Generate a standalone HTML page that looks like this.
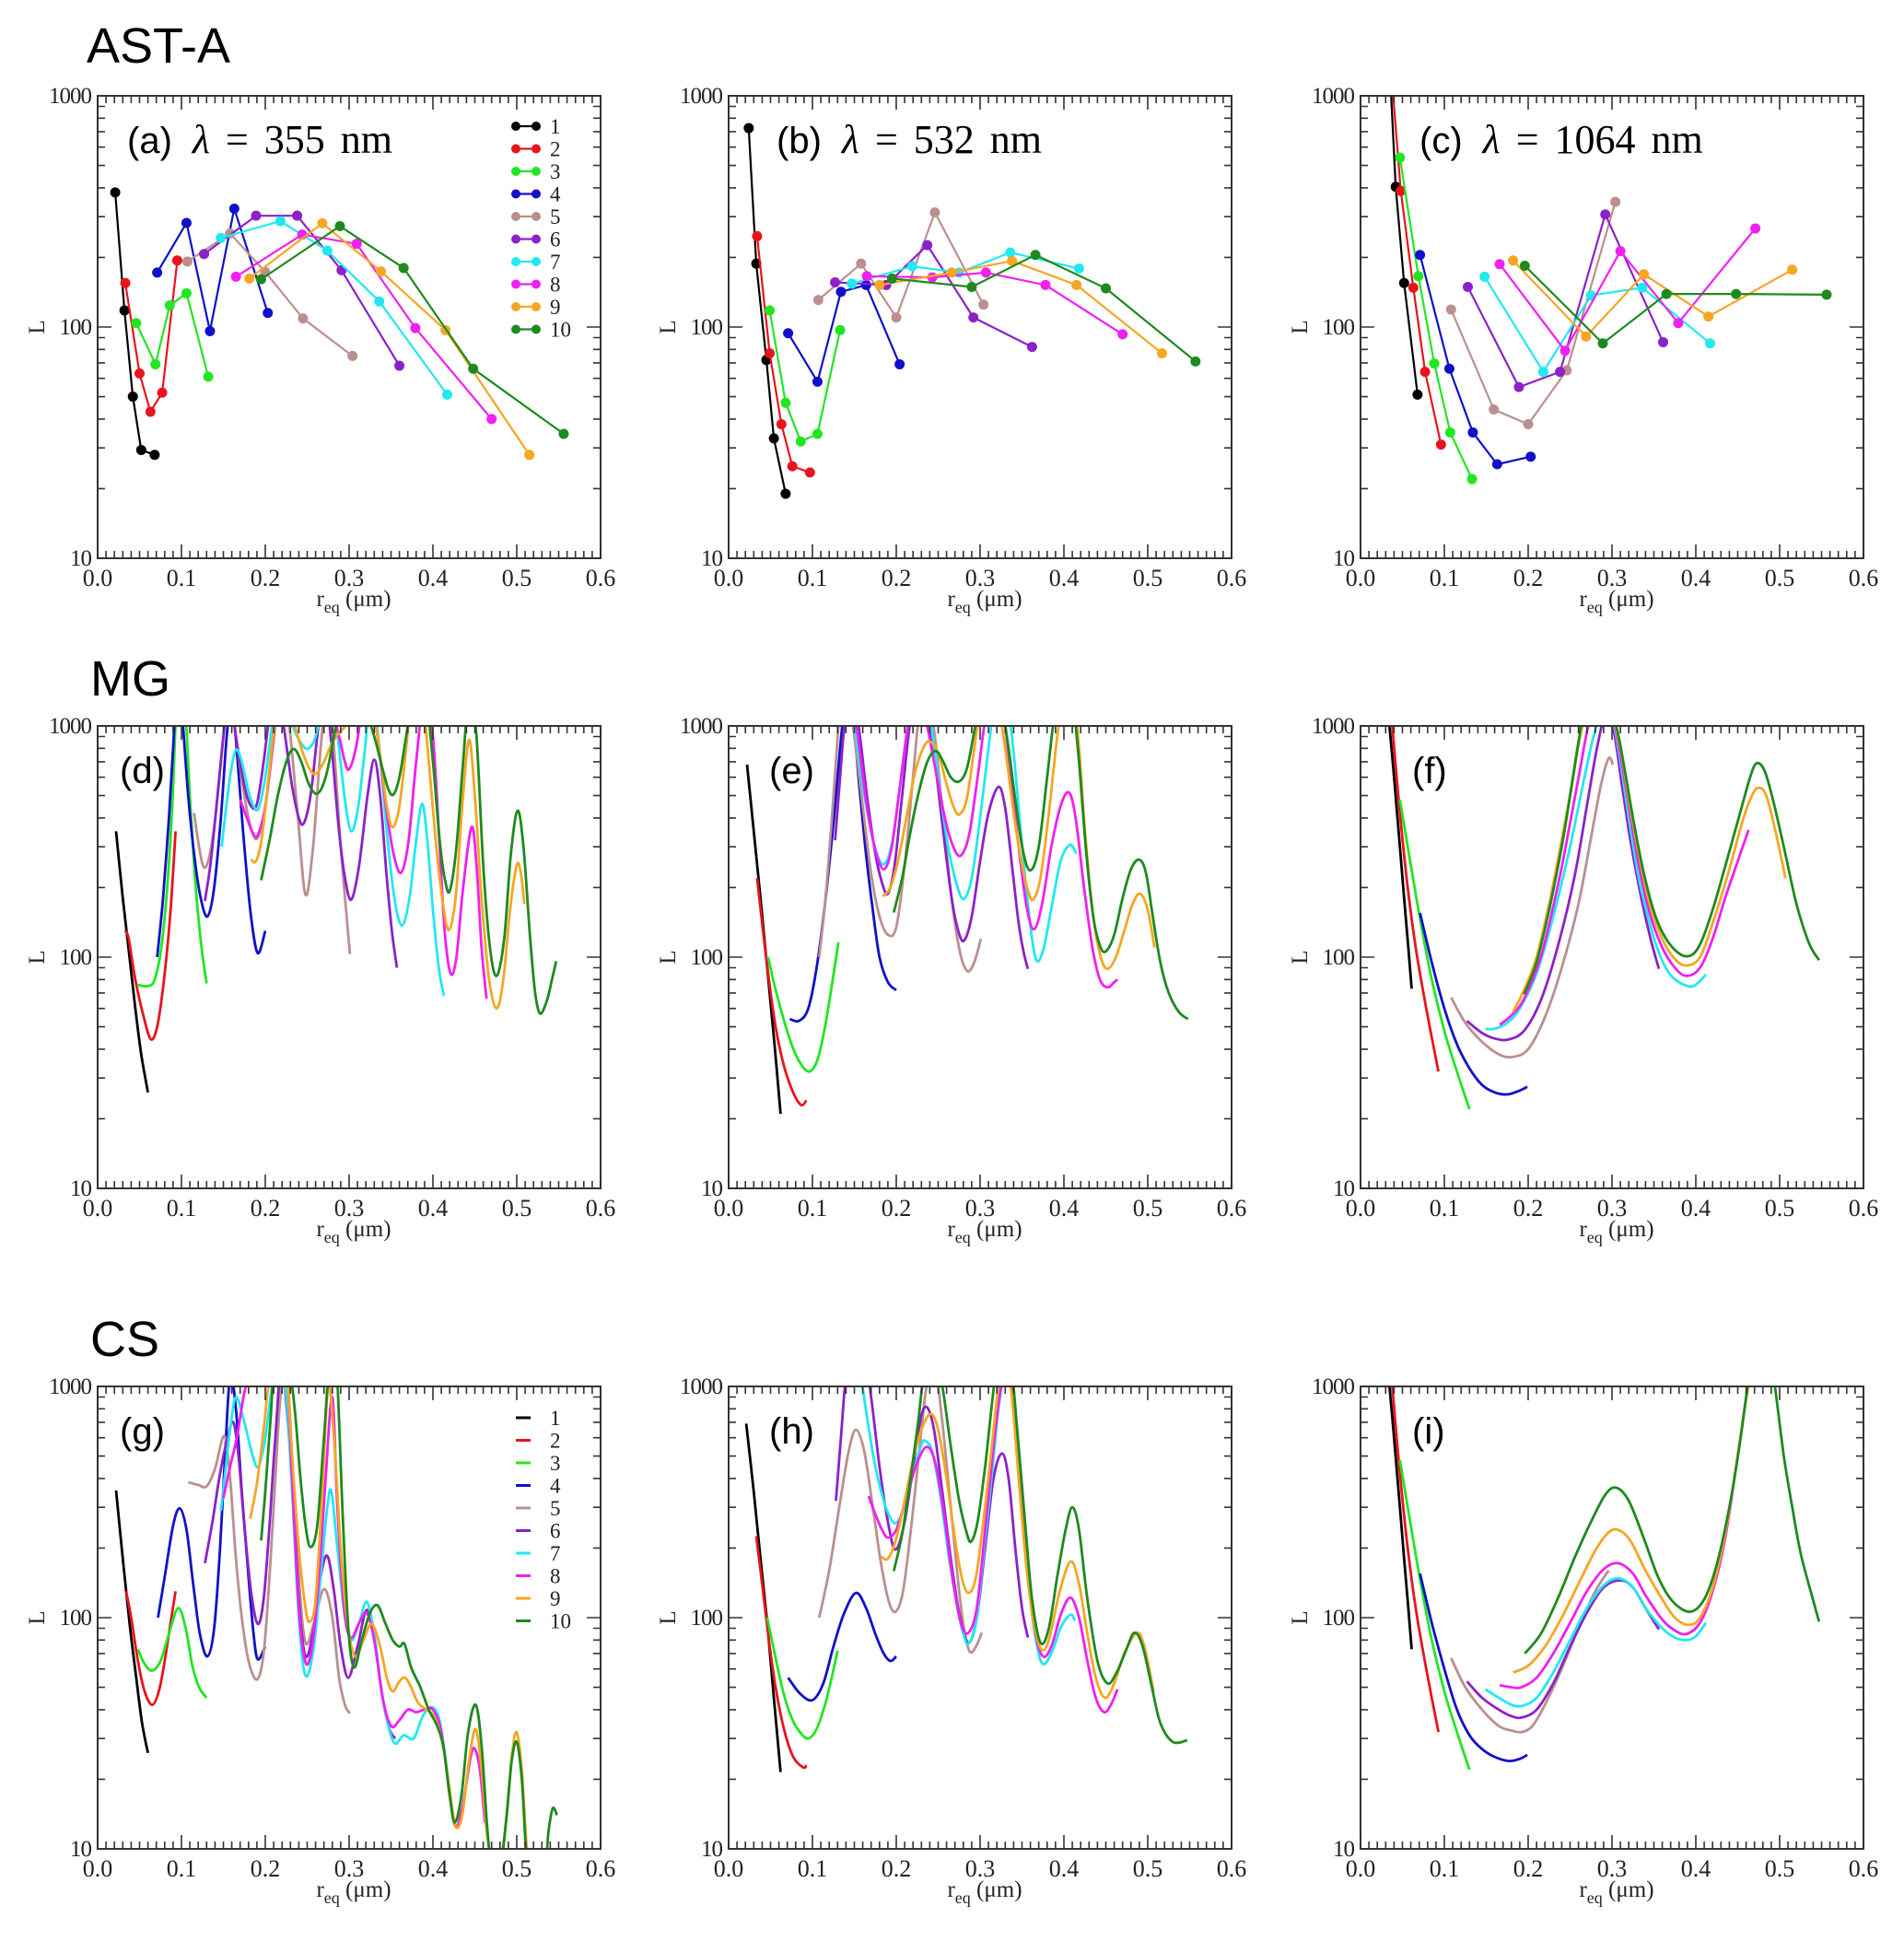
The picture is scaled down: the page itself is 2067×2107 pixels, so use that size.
<!DOCTYPE html>
<html><head><meta charset="utf-8"><style>
html,body{margin:0;padding:0;background:#fff;}
svg{display:block;}
</style></head><body>
<svg id="fig" xmlns="http://www.w3.org/2000/svg" width="2067" height="2107" viewBox="0 0 2067 2107">
<rect x="0" y="0" width="2067" height="2107" fill="#fff"/>
<text x="94" y="68" font-family="Liberation Sans, sans-serif" font-size="54">AST-A</text>
<text x="98" y="755" font-family="Liberation Sans, sans-serif" font-size="54">MG</text>
<text x="98" y="1472" font-family="Liberation Sans, sans-serif" font-size="54">CS</text>
<g id="panels"></g>
</svg>
<script>
const COLORS=['#000000','#e8141c','#22e622','#1010c8','#bc8f8f','#8b22c8','#22e8f0','#f020f0','#f5a623','#1e8a1e'];
const xTicks=[0,0.1,0.2,0.3,0.4,0.5,0.6];
const xTickLabels=['0.0','0.1','0.2','0.3','0.4','0.5','0.6'];
const yTicks=[10,100,1000];
const yTickLabels=['10','100','1000'];
const legendLabels=['1','2','3','4','5','6','7','8','9','10'];

// Panel (a) 355 nm, AST-A, markers
const dataA=[
[[.021,382],[.032,118],[.042,50],[.052,29.4],[.068,28]],
[[.033,155],[.050,63],[.063,43],[.077,52],[.095,194]],
[[.046,104],[.069,69],[.086,124],[.106,140],[.132,61]],
[[.071,172],[.106,282],[.134,96],[.163,325],[.203,115]],
[[.107,192],[.158,254],[.200,173],[.245,109],[.304,75]],
[[.127,207],[.189,303],[.238,303],[.291,176],[.360,68]],
[[.147,243],[.218,287],[.274,214],[.336,129],[.417,51]],
[[.165,165],[.244,251],[.309,229],[.379,99],[.470,40]],
[[.181,162],[.268,281],[.338,174],[.415,97],[.515,28]],
[[.195,161],[.289,273],[.365,180],[.448,66],[.556,34.5]]];
// Panel (b) 532 nm
const dataB=[
[[.024,725],[.033,188],[.045,72],[.054,33],[.068,19]],
[[.034,247],[.049,77],[.063,38],[.076,25],[.097,23.5]],
[[.049,118],[.068,47],[.086,32],[.106,34.5],[.133,97]],
[[.071,94],[.106,58],[.134,142],[.164,152],[.204,69]],
[[.107,131],[.158,188],[.200,110],[.246,313],[.304,125]],
[[.127,156],[.188,152],[.237,226],[.292,110],[.362,82]],
[[.147,154],[.219,183],[.275,172],[.336,210],[.418,179]],
[[.165,166],[.243,164],[.307,172],[.378,152],[.470,93]],
[[.180,152],[.266,172],[.338,193],[.415,152],[.517,77]],
[[.195,162],[.290,149],[.366,205],[.450,147],[.557,71]]];
// Panel (c) 1064 nm
const dataC=[
[[.035,1300],[.042,404],[.052,155],[.068,51]],
[[.038,1100],[.048,388],[.063,148],[.077,64],[.096,31]],
[[.047,540],[.069,166],[.088,69.5],[.107,35],[.133,22]],
[[.071,205],[.106,66],[.134,35],[.163,25.5],[.203,27.5]],
[[.108,119],[.159,44],[.200,38],[.246,65],[.304,348]],
[[.128,149],[.189,55],[.238,64],[.292,307],[.361,86]],
[[.148,165],[.218,64],[.275,137],[.336,148],[.417,85]],
[[.166,187],[.244,79],[.310,213],[.379,104],[.471,267]],
[[.182,194],[.269,91],[.338,169],[.415,111],[.515,177]],
[[.196,184],[.289,85],[.365,139],[.448,139],[.556,138]]];

// Panel (d) MG 355
const dataD=[
[[.022,350],[.03,180],[.038,100],[.045,60],[.052,38],[.06,26]],
[[.033,130],[.037,120],[.045,80],[.055,55],[.064,44],[.072,52],[.08,85],[.087,160],[.093,350]],
[[.047,76],[.06,75],[.068,80],[.076,110],[.083,200],[.089,450],[.094,1200],[.1,1500],[.105,1100],[.11,500],[.117,200],[.124,110],[.13,77]],
[[.071,100],[.078,180],[.085,400],[.09,800],[.095,1500],[.1,1200],[.108,500],[.115,280],[.123,180],[.131,150],[.139,200],[.147,400],[.154,900],[.16,1300],[.167,700],[.175,300],[.183,150],[.191,104],[.2,130]],
[[.115,420],[.121,300],[.127,244],[.134,280],[.142,450],[.15,900],[.157,1400],[.165,900],[.175,500],[.183,360],[.19,325],[.198,400],[.207,700],[.215,1200],[.222,1500],[.23,900],[.239,400],[.248,186],[.257,300],[.266,800],[.274,1400],[.282,800],[.29,300],[.301,103]],
[[.128,175],[.135,260],[.143,500],[.15,900],[.157,1400],[.165,900],[.175,550],[.183,450],[.19,460],[.198,700],[.206,1200],[.213,1600],[.222,1000],[.232,550],[.24,400],[.246,380],[.254,500],[.262,900],[.27,1500],[.278,900],[.288,350],[.296,210],[.303,178],[.312,250],[.322,500],[.33,714],[.337,500],[.345,220],[.351,130],[.357,90]],
[[.148,300],[.155,500],[.161,700],[.166,790],[.172,700],[.18,520],[.186,450],[.192,440],[.2,600],[.208,1000],[.215,1400],[.225,1200],[.235,950],[.245,820],[.252,800],[.26,900],[.27,1300],[.28,1400],[.288,800],[.296,450],[.303,350],[.311,450],[.319,800],[.327,1400],[.336,800],[.345,350],[.354,180],[.363,137],[.372,180],[.38,320],[.387,460],[.393,330],[.4,160],[.407,90],[.413,68]],
[[.17,480],[.178,400],[.185,345],[.191,337],[.2,450],[.208,800],[.215,1400],[.225,1500],[.24,1300],[.255,1100],[.27,1000],[.28,1100],[.288,900],[.295,700],[.3,650],[.308,800],[.316,1200],[.324,1500],[.334,900],[.344,450],[.353,280],[.362,232],[.371,320],[.38,700],[.39,1400],[.4,900],[.408,300],[.414,130],[.421,85],[.428,100],[.436,200],[.446,365],[.452,250],[.458,110],[.464,66]],
[[.183,265],[.189,260],[.196,330],[.204,600],[.212,1100],[.22,1500],[.232,1100],[.243,800],[.252,660],[.26,620],[.27,700],[.28,850],[.29,950],[.3,1050],[.31,1400],[.32,1500],[.33,1100],[.338,700],[.345,450],[.352,365],[.36,450],[.368,800],[.376,1500],[.386,1500],[.395,700],[.404,300],[.412,170],[.419,131],[.427,180],[.435,450],[.443,870],[.45,500],[.458,180],[.467,80],[.476,60],[.484,80],[.492,160],[.5,250],[.505,230],[.509,170]],
[[.195,215],[.205,320],[.215,500],[.225,700],[.234,795],[.243,700],[.252,560],[.262,509],[.272,600],[.282,900],[.292,1400],[.305,1500],[.318,1200],[.33,900],[.34,650],[.347,530],[.353,505],[.36,600],[.368,900],[.378,1500],[.39,1500],[.4,700],[.408,320],[.414,220],[.42,193],[.428,300],[.436,700],[.444,1500],[.452,900],[.46,250],[.468,110],[.476,83],[.485,120],[.493,280],[.501,430],[.508,300],[.516,120],[.522,70],[.528,57],[.536,65],[.542,80],[.547,96]]];
// Panel (e) MG 532
const dataE=[
[[.022,680],[.03,350],[.038,180],[.046,90],[.054,45],[.062,21]],
[[.034,220],[.04,140],[.048,80],[.056,50],[.065,35],[.075,27],[.086,23],[.093,24]],
[[.047,100],[.055,75],[.065,55],[.075,42],[.085,35],[.096,32],[.106,36],[.115,50],[.123,75],[.131,116]],
[[.073,54],[.084,53],[.095,60],[.105,90],[.115,170],[.125,380],[.133,800],[.14,1300],[.148,1100],[.155,600],[.163,300],[.172,160],[.18,100],[.19,78],[.2,72]],
[[.108,100],[.115,170],[.122,350],[.128,700],[.134,1300],[.142,1400],[.15,900],[.16,450],[.17,230],[.18,150],[.19,125],[.2,135],[.21,250],[.22,600],[.228,1200],[.236,1500],[.246,900],[.256,400],[.266,180],[.276,105],[.285,87],[.293,95],[.301,120]],
[[.127,320],[.133,600],[.138,1000],[.145,1500],[.155,1000],[.165,500],[.175,280],[.183,210],[.19,188],[.198,250],[.207,500],[.216,1000],[.225,1500],[.236,1200],[.246,700],[.256,350],[.266,180],[.274,130],[.281,118],[.29,150],[.3,260],[.31,420],[.322,545],[.33,440],[.338,250],[.346,140],[.352,105],[.357,89]],
[[.145,1400],[.152,900],[.16,550],[.168,380],[.177,280],[.185,252],[.194,300],[.203,500],[.212,900],[.22,1400],[.23,1500],[.24,1100],[.25,600],[.26,330],[.27,220],[.28,178],[.29,220],[.3,400],[.31,800],[.318,1300],[.328,1500],[.338,900],[.347,400],[.355,200],[.362,120],[.368,96],[.376,110],[.386,170],[.396,260],[.407,306],[.415,280]],
[[.148,1400],[.156,800],[.165,450],[.175,290],[.185,240],[.194,290],[.203,500],[.212,900],[.22,1400],[.232,1200],[.245,700],[.258,400],[.268,300],[.277,275],[.287,340],[.297,600],[.305,1000],[.313,1400],[.325,1300],[.335,700],[.345,320],[.355,170],[.364,132],[.374,170],[.385,300],[.396,450],[.406,515],[.414,400],[.424,200],[.434,110],[.443,80],[.452,74],[.46,78],[.464,80]],
[[.184,183],[.193,200],[.202,260],[.212,400],[.222,620],[.232,800],[.24,855],[.25,760],[.26,560],[.268,450],[.275,414],[.284,480],[.292,750],[.3,1200],[.308,1500],[.32,1300],[.33,800],[.34,420],[.35,250],[.357,195],[.363,177],[.372,220],[.382,420],[.392,900],[.4,1400],[.41,1500],[.418,800],[.426,320],[.435,150],[.444,100],[.452,89],[.462,100],[.472,130],[.482,170],[.491,188],[.5,160],[.508,110]],
[[.197,156],[.207,220],[.217,350],[.227,520],[.237,700],[.247,780],[.256,700],[.265,600],[.275,575],[.284,650],[.292,900],[.3,1300],[.31,1500],[.322,1400],[.332,900],[.342,480],[.351,290],[.36,237],[.37,300],[.38,600],[.39,1200],[.4,1500],[.41,1300],[.418,700],[.426,300],[.435,150],[.443,112],[.45,106],[.46,125],[.47,180],[.48,240],[.49,264],[.498,230],[.506,150],[.515,95],[.525,70],[.537,58],[.548,54]]];
// Panel (f) MG 1064
const dataF=[
[[.034,1050],[.04,600],[.046,330],[.052,180],[.057,110],[.061,73]],
[[.037,1100],[.045,500],[.055,220],[.065,115],[.075,70],[.085,45],[.093,32]],
[[.047,480],[.06,250],[.072,140],[.085,80],[.1,48],[.115,32],[.13,22]],
[[.071,155],[.085,95],[.1,60],[.115,42],[.13,33],[.145,28],[.16,26],[.175,25.5],[.19,26.5],[.199,27.5]],
[[.108,67],[.125,52],[.145,43],[.165,38],[.181,37],[.2,40],[.22,55],[.24,90],[.26,170],[.275,330],[.287,560],[.296,725],[.301,680]],
[[.127,53],[.145,47],[.16,44.5],[.176,44],[.195,48],[.215,65],[.235,110],[.255,220],[.27,450],[.282,800],[.292,1100],[.302,950],[.312,550],[.322,320],[.335,180],[.346,120],[.356,89]],
[[.149,49],[.16,49],[.175,52],[.19,60],[.21,85],[.23,150],[.25,300],[.265,550],[.278,900],[.29,1200],[.3,1100],[.31,700],[.32,400],[.332,220],[.345,140],[.358,100],[.372,82],[.39,75],[.4,76],[.412,84]],
[[.166,51],[.18,56],[.195,66],[.215,100],[.235,200],[.25,380],[.262,650],[.272,1000],[.285,1200],[.3,1100],[.31,750],[.32,450],[.332,250],[.345,155],[.36,110],[.375,90],[.389,83],[.405,90],[.42,120],[.435,180],[.45,260],[.463,355]],
[[.182,58],[.195,72],[.21,100],[.225,170],[.24,320],[.252,550],[.262,900],[.275,1300],[.295,1300],[.31,800],[.32,480],[.332,280],[.345,170],[.36,120],[.375,98],[.389,92],[.405,100],[.42,140],[.44,240],[.455,380],[.467,500],[.475,540],[.484,500],[.495,350],[.507,220]],
[[.195,69],[.21,95],[.225,160],[.24,300],[.25,500],[.26,850],[.27,1300],[.29,1400],[.305,1000],[.315,650],[.325,400],[.338,230],[.352,150],[.368,115],[.387,101],[.403,110],[.42,160],[.438,270],[.455,450],[.466,620],[.473,690],[.482,640],[.492,480],[.505,300],[.52,170],[.535,115],[.547,97]]];

// Panel (g) CS 355
const dataG=[
[[.022,355],[.03,180],[.038,95],[.046,55],[.053,35],[.06,26]],
[[.034,130],[.04,100],[.048,65],[.056,48],[.065,42],[.073,48],[.08,65],[.087,95],[.093,130]],
[[.048,73],[.056,63],[.065,59],[.075,65],[.085,85],[.096,110],[.105,90],[.113,62],[.121,50],[.13,45]],
[[.072,100],[.08,150],[.09,250],[.098,297],[.106,240],[.114,140],[.122,85],[.131,68],[.139,90],[.146,200],[.152,500],[.158,1100],[.165,800],[.172,350],[.18,150],[.186,85],[.191,66],[.2,75]],
[[.108,385],[.12,375],[.13,370],[.14,440],[.151,610],[.158,400],[.165,180],[.172,100],[.18,65],[.19,54],[.198,70],[.205,150],[.212,400],[.218,900],[.225,1300],[.232,500],[.24,150],[.248,78],[.258,95],[.27,133],[.28,100],[.288,55],[.295,42],[.301,38.5]],
[[.128,172],[.137,260],[.146,420],[.155,600],[.162,700],[.168,500],[.175,250],[.183,130],[.191,94],[.198,120],[.205,250],[.212,600],[.22,1200],[.232,400],[.24,120],[.248,68],[.258,90],[.266,150],[.274,185],[.282,130],[.29,75],[.299,55],[.31,75],[.321,108],[.33,80],[.34,45],[.348,33],[.355,30]],
[[.147,290],[.153,450],[.158,650],[.165,900],[.175,700],[.185,500],[.192,450],[.2,600],[.208,1000],[.215,1300],[.225,900],[.232,350],[.24,100],[.248,56],[.258,75],[.266,150],[.274,300],[.279,350],[.286,200],[.295,100],[.303,80],[.312,95],[.321,117],[.33,85],[.34,45],[.353,29],[.365,31],[.377,30],[.387,37],[.397,41],[.406,38],[.413,28],[.42,17],[.427,12.5],[.435,15],[.445,25],[.45,27],[.456,22],[.462,14]],
[[.15,330],[.158,450],[.166,600],[.174,900],[.18,1100],[.19,1300],[.2,1200],[.21,1000],[.218,1200],[.225,1300],[.232,400],[.24,110],[.248,64],[.256,75],[.264,150],[.272,400],[.28,900],[.286,300],[.294,110],[.302,82],[.312,95],[.321,105],[.33,80],[.34,45],[.35,34],[.36,36],[.37,40],[.38,39],[.39,40],[.4,40],[.41,32],[.42,17],[.427,12.5],[.435,15],[.445,25],[.45,27],[.456,22],[.462,13]],
[[.182,268],[.19,380],[.198,650],[.205,1100],[.215,1500],[.225,1200],[.232,500],[.24,200],[.248,110],[.253,96],[.26,120],[.268,350],[.275,1000],[.282,600],[.29,200],[.298,95],[.307,68],[.317,80],[.327,94],[.337,75],[.345,55],[.352,48],[.36,53],[.367,55],[.374,50],[.382,43],[.392,40],[.402,37],[.412,28],[.42,18],[.427,12.5],[.435,14],[.443,24],[.451,33],[.458,22],[.464,12],[.47,9],[.478,8],[.486,12],[.494,25],[.5,32],[.506,22],[.512,10],[.518,7]],
[[.195,216],[.2,350],[.206,700],[.212,1300],[.225,1500],[.235,800],[.242,400],[.248,250],[.254,202],[.262,250],[.27,600],[.277,1300],[.285,1200],[.292,300],[.299,90],[.306,61],[.315,80],[.325,105],[.334,113],[.343,95],[.352,80],[.36,75],[.366,77],[.374,61],[.385,50],[.395,40],[.405,34],[.413,27],[.42,17],[.426,13],[.434,17],[.442,32],[.451,42],[.458,28],[.465,12],[.471,8],[.48,8],[.488,14],[.494,24],[.5,29],[.506,20],[.512,9],[.52,7],[.533,8],[.538,12],[.543,15],[.548,14]]];
// Panel (h) CS 532
const dataH=[
[[.021,690],[.03,350],[.038,180],[.046,95],[.054,45],[.062,21.5]],
[[.033,225],[.04,140],[.048,80],[.056,50],[.066,33],[.077,25],[.089,22.5],[.093,23]],
[[.046,100],[.055,70],[.065,48],[.075,37],[.085,32],[.095,30],[.105,33],[.115,42],[.123,55],[.13,72]],
[[.071,55],[.085,47],[.1,44],[.113,52],[.125,75],[.138,105],[.152,128],[.164,110],[.175,85],[.185,70],[.193,65],[.2,68]],
[[.108,100],[.12,160],[.132,300],[.143,520],[.152,650],[.162,520],[.172,300],[.182,170],[.191,118],[.199,106],[.208,130],[.218,250],[.228,550],[.236,1000],[.245,1300],[.255,700],[.265,300],[.275,130],[.282,85],[.288,71],[.295,75],[.302,86]],
[[.128,320],[.134,600],[.14,1100],[.15,1600],[.16,1600],[.17,900],[.18,450],[.19,260],[.199,197],[.21,260],[.222,500],[.23,750],[.237,810],[.245,650],[.255,350],[.265,180],[.275,105],[.286,78],[.296,100],[.306,200],[.316,400],[.326,513],[.334,400],[.342,200],[.35,110],[.357,82]],
[[.158,1100],[.166,700],[.175,450],[.185,320],[.193,270],[.2,257],[.21,300],[.22,420],[.23,560],[.235,580],[.243,520],[.253,330],[.263,180],[.273,110],[.28,85],[.286,77],[.295,95],[.305,200],[.315,450],[.322,800],[.33,1200],[.337,1200],[.345,600],[.353,250],[.36,120],[.368,75],[.375,63],[.385,70],[.397,92],[.408,103],[.413,97]],
[[.167,335],[.175,280],[.183,240],[.19,222],[.2,240],[.212,330],[.225,470],[.237,548],[.247,460],[.257,280],[.267,150],[.277,95],[.286,86],[.296,110],[.306,240],[.316,550],[.325,1000],[.333,1200],[.342,700],[.35,300],[.358,140],[.366,85],[.375,68],[.385,75],[.397,105],[.408,122],[.418,100],[.428,65],[.438,45],[.448,39],[.456,42],[.464,49]],
[[.182,184],[.19,180],[.2,220],[.21,320],[.22,480],[.23,650],[.241,760],[.25,650],[.26,400],[.27,220],[.278,150],[.286,128],[.295,150],[.305,280],[.315,600],[.322,1000],[.33,1300],[.338,900],[.346,400],[.355,170],[.364,95],[.373,73],[.382,80],[.395,130],[.408,175],[.418,140],[.428,85],[.438,55],[.449,45],[.46,52],[.472,70],[.487,86],[.496,75],[.507,48]],
[[.197,159],[.207,230],[.217,400],[.226,700],[.233,1100],[.245,1400],[.255,1000],[.265,550],[.275,320],[.283,240],[.289,213],[.297,260],[.306,450],[.315,900],[.322,1400],[.335,1400],[.345,600],[.354,250],[.362,120],[.372,78],[.382,90],[.392,150],[.402,240],[.41,300],[.418,240],[.428,120],[.44,65],[.452,52],[.463,58],[.474,72],[.484,86],[.494,75],[.505,50],[.515,35],[.53,29],[.547,29.5]]];
// Panel (i) CS 1064
const dataI=[
[[.034,1050],[.04,600],[.046,330],[.052,180],[.057,110],[.061,73]],
[[.037,1100],[.045,500],[.055,220],[.065,115],[.075,70],[.085,45],[.093,32]],
[[.047,480],[.06,250],[.072,140],[.085,80],[.1,48],[.115,32],[.13,22]],
[[.071,155],[.085,95],[.1,60],[.115,40],[.13,31],[.145,27],[.16,25],[.177,24],[.19,24.5],[.199,25.5]],
[[.108,67],[.125,50],[.145,40],[.165,34],[.18,32.5],[.192,32],[.205,34],[.22,42],[.24,60],[.26,90],[.28,130],[.296,160]],
[[.127,53],[.145,45],[.165,40],[.18,37.5],[.192,37],[.21,40],[.23,52],[.25,75],[.27,105],[.29,135],[.31,145],[.325,135],[.34,110],[.356,89]],
[[.149,49],[.165,45],[.18,42],[.192,41.5],[.21,45],[.23,58],[.25,80],[.27,110],[.29,138],[.308,148],[.325,135],[.34,110],[.36,90],[.375,82],[.389,80],[.4,83],[.412,95]],
[[.166,51],[.18,50],[.192,50],[.21,55],[.23,70],[.25,95],[.27,130],[.29,162],[.307,172],[.325,155],[.34,125],[.36,98],[.375,88],[.389,85],[.405,95],[.42,130],[.435,220],[.448,450],[.458,800],[.464,1100]],
[[.182,58],[.2,62],[.22,75],[.24,100],[.26,140],[.28,195],[.295,232],[.307,240],[.322,215],[.34,160],[.36,120],[.375,100],[.391,93],[.405,100],[.42,135],[.435,230],[.448,450],[.458,800],[.465,1100]],
[[.196,70],[.215,85],[.235,120],[.255,180],[.275,260],[.292,340],[.305,365],[.32,320],[.338,220],[.355,150],[.372,118],[.393,106],[.41,120],[.425,170],[.44,300],[.452,550],[.46,900],[.466,1300],[.48,2000],[.49,1300],[.496,900],[.505,500],[.515,300],[.525,190],[.537,130],[.547,96]]];

const NS='http://www.w3.org/2000/svg';
const root=document.getElementById('panels');
function mk(tag,attrs,parent){const e=document.createElementNS(NS,tag);for(const k in attrs)e.setAttribute(k,attrs[k]);(parent||root).appendChild(e);return e;}

const COLX=[106,791,1477], ROWY=[104,788,1505], W=546, H=502;
const LABEL_SHIFT=[0,20,32];
const panels=[
 {id:'a',c:0,r:0,data:dataA,mk:true,label:'(a)',lam:'355',legend:'markers'},
 {id:'b',c:1,r:0,data:dataB,mk:true,label:'(b)',lam:'532'},
 {id:'c',c:2,r:0,data:dataC,mk:true,label:'(c)',lam:'1064'},
 {id:'d',c:0,r:1,data:dataD,label:'(d)'},
 {id:'e',c:1,r:1,data:dataE,label:'(e)'},
 {id:'f',c:2,r:1,data:dataF,label:'(f)'},
 {id:'g',c:0,r:2,data:dataG,label:'(g)',legend:'lines'},
 {id:'h',c:1,r:2,data:dataH,label:'(h)'},
 {id:'i',c:2,r:2,data:dataI,label:'(i)'}];

function catmull(pts){
  let d='M'+pts[0][0].toFixed(1)+','+pts[0][1].toFixed(1);
  for(let i=0;i<pts.length-1;i++){
    const p0=pts[Math.max(0,i-1)],p1=pts[i],p2=pts[i+1],p3=pts[Math.min(pts.length-1,i+2)];
    const c1x=p1[0]+(p2[0]-p0[0])/6,c1y=p1[1]+(p2[1]-p0[1])/6;
    const c2x=p2[0]-(p3[0]-p1[0])/6,c2y=p2[1]-(p3[1]-p1[1])/6;
    d+=' C'+c1x.toFixed(1)+','+c1y.toFixed(1)+' '+c2x.toFixed(1)+','+c2y.toFixed(1)+' '+p2[0].toFixed(1)+','+p2[1].toFixed(1);
  }
  return d;
}

panels.forEach(p=>{
  const x0=COLX[p.c], y0=ROWY[p.r];
  const sx=v=>x0+v/0.6*W;
  const sy=v=>y0+H*(3-Math.log10(v))/2;
  const g=mk('g',{});
  
  
  const cp=mk('clipPath',{id:'clip-'+p.id},g);
  mk('rect',{x:x0,y:y0,width:W,height:H},cp);
  const sg=mk('g',{'clip-path':'url(#clip-'+p.id+')'},g);
  p.data.forEach((s,i)=>{
    const pts=s.map(q=>[sx(q[0]),sy(q[1])]);
    const path=mk('path',{d:p.mk?('M'+pts.map(q=>q[0].toFixed(1)+','+q[1].toFixed(1)).join(' L')):catmull(pts),fill:'none',stroke:COLORS[i],'stroke-width':p.mk?2.2:2.8,'stroke-linejoin':'round'},sg);
    
    
    if(p.mk){pts.forEach((q,k)=>{
      const c=mk('circle',{cx:q[0],cy:q[1],r:5.5,fill:COLORS[i]},sg);
      
      
    });}
  });
  const fr=mk('rect',{x:x0,y:y0,width:W,height:H,fill:'none',stroke:'#333','stroke-width':2},g);
  
  
  let td='';
  for(let k=0;k<=60;k++){const v=k/100,x=sx(v),L=(k%10===0)?15:8;
    td+='M'+x.toFixed(1)+','+(y0+H)+' v'+(-L)+' M'+x.toFixed(1)+','+y0+' v'+L+' ';}
  for(let dec=1;dec<=2;dec++)for(let m=1;m<=9;m++){const v=Math.pow(10,dec)*m;const y=sy(v);const L=(m===1)?15:8;
    td+='M'+x0+','+y.toFixed(1)+' h'+L+' M'+(x0+W)+','+y.toFixed(1)+' h'+(-L)+' ';}
  const tk=mk('path',{d:td,stroke:'#333','stroke-width':1.6,fill:'none'},g);
  
  
  xTicks.forEach((v,k)=>{
    const t=mk('text',{x:sx(v),y:y0+H+30,'text-anchor':'middle','font-family':'Liberation Serif, serif','font-size':26,fill:'#222'},g);
    t.textContent=xTickLabels[k];
    
    
  });
  yTicks.forEach((v,k)=>{
    const t=mk('text',{x:x0-7,y:sy(v)+8,'text-anchor':'end','font-family':'Liberation Serif, serif','font-size':25,fill:'#222','letter-spacing':'-1'},g);
    t.textContent=yTickLabels[k];
    
    
  });
  const xt=mk('text',{x:x0+W*0.5+5,y:y0+H+52,'text-anchor':'middle','font-family':'Liberation Serif, serif','font-size':25,fill:'#222'},g);
  xt.innerHTML='r<tspan dy="7" font-size="18">eq</tspan><tspan dy="-7"> (μm)</tspan>';
  
  
  const yt=mk('text',{x:0,y:0,transform:'translate('+(x0-58)+','+(y0+H/2)+') rotate(-90)','text-anchor':'middle','font-family':'Liberation Serif, serif','font-size':25,fill:'#222'},g);
  yt.textContent='L';
  
  
  const pl=mk('text',{x:x0+(p.lam?32:24)+LABEL_SHIFT[p.c],y:y0+62,'font-family':'Liberation Sans, sans-serif','font-size':40,fill:'#000'},g);
  if(p.lam){pl.innerHTML=p.label+'<tspan dx="22" font-family="Liberation Serif, serif" font-style="italic" font-size="44">λ</tspan><tspan font-family="Liberation Serif, serif" font-size="44" word-spacing="6"> = '+p.lam+' nm</tspan>';}
  else pl.textContent=p.label;
  
  
  if(p.legend){
    const lg=mk('g',{},g);
    
    
    const lx=x0+454, ly=y0+(p.legend==='markers'?33:34), step=24.5;
    legendLabels.forEach((lab,i)=>{
      const y=ly+i*step;
      const e=mk('g',{},lg);
      
      
      mk('line',{x1:lx,y1:y,x2:lx+(p.legend==='markers'?22:16),y2:y,stroke:COLORS[i],'stroke-width':p.legend==='markers'?2.2:3},e);
      if(p.legend==='markers'){mk('circle',{cx:lx,cy:y,r:5,fill:COLORS[i]},e);mk('circle',{cx:lx+22,cy:y,r:5,fill:COLORS[i]},e);}
      const t=mk('text',{x:lx+37,y:y+8,'font-family':'Liberation Serif, serif','font-size':23,fill:'#222'},e);
      t.textContent=lab;
    });
  }
});
</script>
</body></html>
